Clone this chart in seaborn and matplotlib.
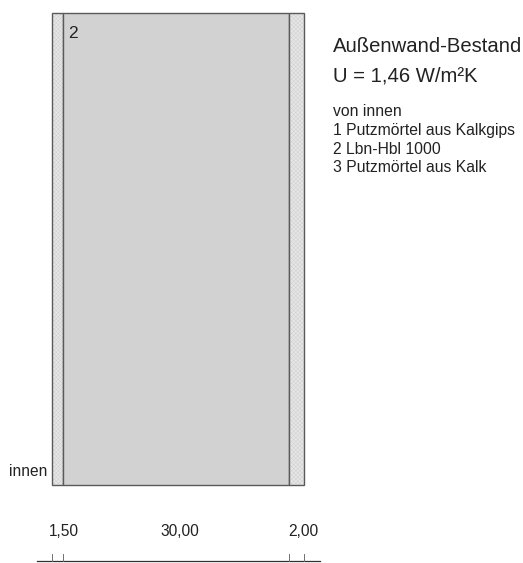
import matplotlib
matplotlib.use("Agg")
import matplotlib.pyplot as plt
import seaborn as sns

plt.rcParams['font.family'] = ['Liberation Sans', 'DejaVu Sans']
plt.rcParams['hatch.linewidth'] = 0.3

layer_thickness = [1.5, 30.0, 2.0]
layer_labels = ["1,50", "30,00", "2,00"]
layer_colors = ["#e6e6e6", "#d2d2d2", "#e6e6e6"]
layer_hatch_colors = ["#cccccc", "#d2d2d2", "#cccccc"]
layer_hatches = ["xxxxxxxx", "", "xxxxxxxx"]
material_lines = ["von innen", "1 Putzmörtel aus Kalkgips", "2 Lbn-Hbl 1000", "3 Putzmörtel aus Kalk"]

W, H = 523, 563
fig = plt.figure(figsize=(W/100, H/100), dpi=100, facecolor='white')
L, R, T, B = 51.5, 304, 13, 485
ax = fig.add_axes([L/W, 1-B/H, (R-L)/W, (B-T)/H])

left = 0.0
edges = [0.0]
for t, c, hc, h in zip(layer_thickness, layer_colors, layer_hatch_colors, layer_hatches):
    sns.barplot(x=[t], y=["wand"], orient='h', left=left, width=1.0, color=c, saturation=1,
                edgecolor=hc, linewidth=0, hatch=h, ax=ax)
    sns.barplot(x=[t], y=["wand"], orient='h', left=left, width=1.0, color='#5a5a5a', saturation=1,
                fill=False, linewidth=1.0, clip_on=False, ax=ax)
    left += t
    edges.append(left)
ax.set_xlim(0, left)
ax.set_ylim(0.5, -0.5)
ax.axis('off')

def fx(px): return px/W
def fy(py): return 1-py/H

ftr = fig.transFigure
fig.add_artist(plt.Line2D([fx(37), fx(320)], [fy(561.3)]*2, color='#303030', lw=0.9))
for e in edges:
    xf = ftr.inverted().transform(ax.transData.transform((e, 0)))[0]
    fig.add_artist(plt.Line2D([xf, xf], [fy(554), fy(561.3)], color='#707070', lw=0.7))

fs = 11.2
txt = dict(color='#222222', va='center')
fig.text(fx(64), fy(532), layer_labels[0], ha='center', fontsize=fs, **txt)
fig.text(fx(180), fy(532), layer_labels[1], ha='center', fontsize=fs, **txt)
fig.text(fx(303), fy(532), layer_labels[2], ha='center', fontsize=fs, **txt)
fig.text(fx(47), fy(472), "innen", ha='right', fontsize=fs, **txt)
fig.text(fx(68), fy(34), "2", ha='left', fontsize=12.5, **txt)
fig.text(fx(333), fy(47), "Außenwand-Bestand", ha='left', fontsize=14.6, **txt)
fig.text(fx(333), fy(76), "U = 1,46 W/m²K", ha='left', fontsize=14.6, **txt)
for y, s in zip([112, 130, 149, 168], material_lines):
    fig.text(fx(333), fy(y), s, ha='left', fontsize=11.3, **txt)

fig.savefig("out.png", dpi=100)
